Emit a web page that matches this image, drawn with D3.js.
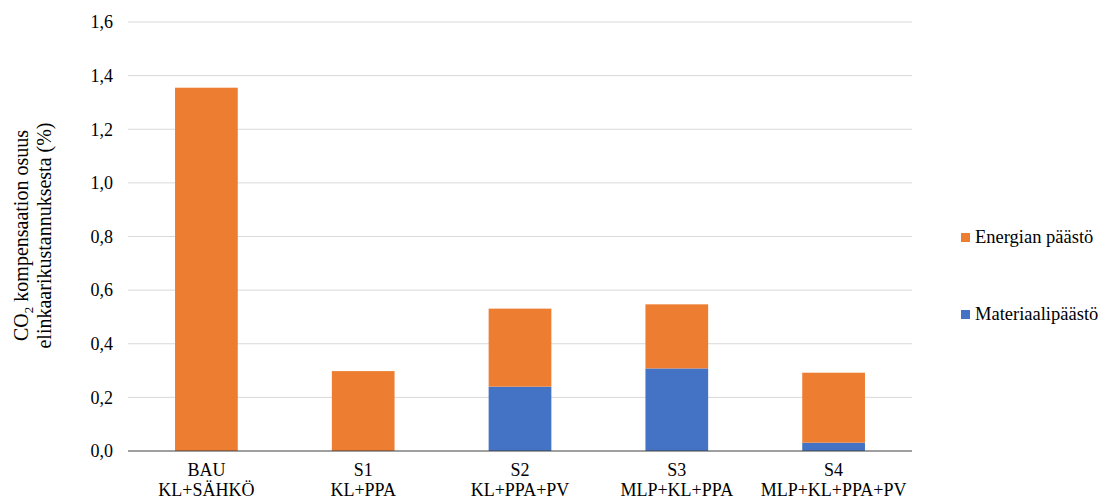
<!DOCTYPE html>
<html>
<head>
<meta charset="utf-8">
<script src="https://cdn.jsdelivr.net/npm/d3@7"></script>
</head>
<body style="margin:0">
<svg id="chart" width="1102" height="502" font-family="Liberation Serif"></svg>
<script>
// Scenario categories (two-line labels)
const scenarios = ["BAU", "S1", "S2", "S3", "S4"];
const scenarioDetails = ["KL+SÄHKÖ", "KL+PPA", "KL+PPA+PV", "MLP+KL+PPA", "MLP+KL+PPA+PV"];
// Emission shares of life-cycle cost (%)
const materialValues = [0, 0, 0.240, 0.308, 0.031];
const energyValues = [1.355, 0.298, 0.291, 0.239, 0.261];
const seriesNames = ["Materiaalipäästö", "Energian päästö"];
const seriesColors = ["#4472C4", "#ED7D31"];
const yTicks = [0, 0.2, 0.4, 0.6, 0.8, 1.0, 1.2, 1.4, 1.6];

const FONT = "'Liberation Serif'";
const serif = (sel, size) => sel
  .attr("font-family", "Liberation Serif")
  .style("font-family", FONT)
  .style("font-size", size + "px");

const svg = d3.select("#chart");
const margin = { left: 128, right: 190, top: 22, bottom: 51 };
const width = 1102, height = 502;

const x = d3.scaleBand().domain(scenarios)
  .range([margin.left, width - margin.right])
  .paddingInner(0.6).paddingOuter(0.3);
const y = d3.scaleLinear().domain([0, 1.6]).range([height - margin.bottom, margin.top]);

const fmt = d => d3.format(".1f")(d).replace(".", ",");

// Gridlines
svg.append("g")
  .selectAll("line").data(yTicks.filter(d => d > 0)).join("line")
  .attr("x1", margin.left).attr("x2", width - margin.right)
  .attr("y1", d => y(d)).attr("y2", d => y(d))
  .attr("stroke", "#d9d9d9").attr("stroke-width", 1);

// Y axis labels
const yAxis = svg.append("g")
  .attr("transform", `translate(${margin.left},0)`)
  .call(d3.axisLeft(y).tickValues(yTicks).tickFormat(fmt).tickSize(0).tickPadding(15));
yAxis.attr("font-family", "Liberation Serif").attr("font-size", 18);
yAxis.select(".domain").remove();
serif(yAxis.selectAll("text"), 18).attr("fill", "#000");

// Stacked bars
const rows = scenarios.map((s, i) => ({ s, m: materialValues[i], e: energyValues[i] }));
const stack = d3.stack().keys(["m", "e"])(rows);
svg.append("g").selectAll("g").data(stack).join("g")
  .attr("fill", (d, i) => seriesColors[i])
  .selectAll("rect").data(d => d).join("rect")
  .attr("x", d => x(d.data.s))
  .attr("width", x.bandwidth())
  .attr("y", d => y(d[1]))
  .attr("height", d => Math.max(0, y(d[0]) - y(d[1])));

// Baseline
svg.append("line")
  .attr("x1", margin.left).attr("x2", width - margin.right)
  .attr("y1", y(0)).attr("y2", y(0))
  .attr("stroke", "#404040").attr("stroke-width", 1.2);

// X axis labels
const xl = svg.append("g");
scenarios.forEach((s, i) => {
  const cx = x(s) + x.bandwidth() / 2;
  const t = serif(xl.append("text").attr("text-anchor", "middle"), 18);
  t.append("tspan").attr("x", cx).attr("y", 476).text(s);
  t.append("tspan").attr("x", cx).attr("y", 496).text(scenarioDetails[i]);
});

// Y axis title
const yt = serif(svg.append("text"), 20)
  .attr("transform", `translate(0,${(y(0) + y(1.6)) / 2 - 1}) rotate(-90)`)
  .attr("text-anchor", "middle");
const l1 = yt.append("tspan").attr("x", 0).attr("y", 28);
l1.append("tspan").text("CO");
l1.append("tspan").attr("dy", 5).style("font-size", "13px").text("2");
l1.append("tspan").attr("dy", -5).text(" kompensaation osuus");
yt.append("tspan").attr("x", 0).attr("y", 51).text("elinkaarikustannuksesta (%)");

// Legend (energy first, material below)
const legendItems = [
  { name: seriesNames[1], color: seriesColors[1], y: 243 },
  { name: seriesNames[0], color: seriesColors[0], y: 320 }
];
const lg = svg.append("g")
  .selectAll("g").data(legendItems).join("g")
  .attr("transform", d => `translate(961,${d.y})`);
lg.append("rect").attr("x", 0).attr("y", -10).attr("width", 9).attr("height", 9)
  .attr("fill", d => d.color);
serif(lg.append("text").attr("x", 14).attr("y", 0), 18.5)
  .text(d => d.name);
</script>
</body>
</html>
